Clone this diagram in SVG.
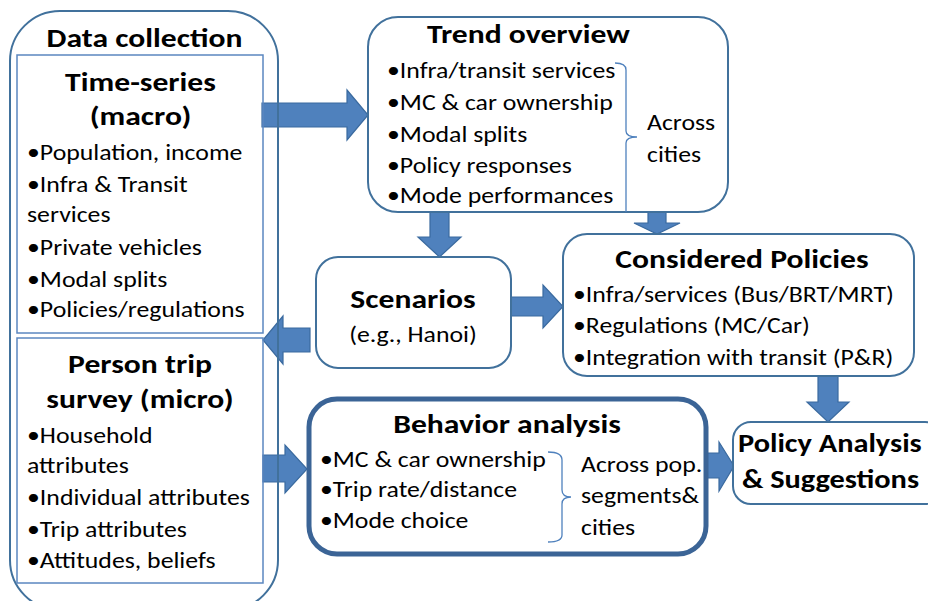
<svg xmlns="http://www.w3.org/2000/svg" width="928" height="601" viewBox="0 0 928 601">
  <style>
    .box { fill: #ffffff; stroke: #41719c; stroke-width: 2; }
    .inner { fill: none; stroke: #5b87c0; stroke-width: 1.5; }
    .thick { fill: #ffffff; stroke: #3b6496; stroke-width: 5; }
    .arrow { fill: #4f81bd; stroke: #3a6a9f; stroke-width: 1.2; stroke-linejoin: miter; }
    .brace { fill: none; stroke: #4f81bd; stroke-width: 1.3; }
    text { fill: #000; font-family: Carlito, Lato, "Open Sans", sans-serif;
           transform-box: fill-box; transform-origin: 0 50%; }
    .h { font-weight: bold; font-size: 25.5px; transform: scaleX(1.24); }
    .t { font-size: 21.5px; transform: scaleX(1.2); }
    .c { text-anchor: middle; transform-origin: 50% 50%; }
    .edge { transform: scaleX(1.19); }
  </style>
  <rect width="928" height="601" fill="#ffffff"/>

  <!-- connectors: block arrows between stages -->
  <g id="connectors">
    <polygon class="arrow" points="262,103 347,103 347,90 368,115 347,140 347,127 262,127"/>
    <polygon class="arrow" points="430,212 449,212 449,237 461,237 439.5,257 418,237 430,237"/>
    <polygon class="arrow" points="648,212 666,212 666,223 680,223 657,234 634,223 648,223"/>
    <polygon class="arrow" points="511,297 543,297 543,285 563,306.5 543,328 543,316 511,316"/>
    <polygon class="arrow" points="310,328 283,328 283,316 263,340 283,364 283,352 310,352"/>
    <polygon class="arrow" points="818,376 838,376 838,402 849,402 828,422 807,402 818,402"/>
    <polygon class="arrow" points="263,455 285,455 285,445 307,469 285,493 285,482 263,482"/>
    <polygon class="arrow" points="706,453 719,453 719,442 734,466 719,491 719,478 706,478"/>
  </g>

  <!-- data collection: outer frame with two source panels -->
  <g id="data-collection">
    <rect x="10" y="11" width="268" height="599" rx="50" fill="none" stroke="#41719c" stroke-width="2"/>
    <text class="h c" x="144.5" y="47">Data collection</text>
  </g>

  <g id="time-series">
    <rect class="inner" x="17" y="55" width="246" height="278"/>
    <text class="h c" x="140.5" y="91">Time-series</text>
    <text class="h c" x="140.5" y="125">(macro)</text>
    <text class="t" x="27" y="160">•Population, income</text>
    <text class="t" x="27" y="192">•Infra &amp; Transit</text>
    <text class="t" x="27" y="222">services</text>
    <text class="t" x="27" y="255">•Private vehicles</text>
    <text class="t" x="27" y="287">•Modal splits</text>
    <text class="t" x="27" y="317">•Policies/regulations</text>
  </g>

  <g id="person-trip">
    <rect class="inner" x="17" y="338" width="246" height="245"/>
    <text class="h c" x="140" y="373">Person trip</text>
    <text class="h c" x="140" y="408">survey (micro)</text>
    <text class="t" x="27" y="443">•Household</text>
    <text class="t" x="27" y="473">attributes</text>
    <text class="t" x="27" y="505">•Individual attributes</text>
    <text class="t" x="27" y="537">•Trip attributes</text>
    <text class="t" x="27" y="568">•Attitudes, beliefs</text>
  </g>

  <g id="trend-overview">
    <rect class="box" x="368" y="17" width="360" height="195" rx="30"/>
    <text class="h c" x="528.5" y="43">Trend overview</text>
    <text class="t" x="387" y="78">•Infra/transit services</text>
    <text class="t" x="387" y="110">•MC &amp; car ownership</text>
    <text class="t" x="387" y="142">•Modal splits</text>
    <text class="t" x="387" y="173">•Policy responses</text>
    <text class="t" x="387" y="203">•Mode performances</text>
    <path class="brace" d="M615,63 Q626,63 626,70 L626,131 Q626,137 637,137 Q626,137 626,143 L626,212"/>
    <text class="t" x="647" y="130">Across</text>
    <text class="t" x="647" y="162">cities</text>
  </g>

  <g id="scenarios">
    <rect class="box" x="316" y="257" width="195" height="111" rx="22"/>
    <text class="h c" x="413" y="308">Scenarios</text>
    <text class="t c" x="413" y="342">(e.g., Hanoi)</text>
  </g>

  <g id="considered-policies">
    <rect class="box" x="563" y="234" width="351" height="142" rx="24"/>
    <text class="h c" x="742" y="268">Considered Policies</text>
    <text class="t" x="573" y="302">•Infra/services (Bus/BRT/MRT)</text>
    <text class="t" x="573" y="333">•Regulations (MC/Car)</text>
    <text class="t" x="573" y="365">•Integration with transit (P&amp;R)</text>
  </g>

  <g id="behavior-analysis">
    <rect class="thick" x="309" y="399" width="397" height="155" rx="28"/>
    <text class="h c" x="507" y="433">Behavior analysis</text>
    <text class="t" x="320" y="467">•MC &amp; car ownership</text>
    <text class="t" x="320" y="497">•Trip rate/distance</text>
    <text class="t" x="320" y="528">•Mode choice</text>
    <path class="brace" d="M548,452 Q562,452 562,460 L562,490 Q562,497 571,497 Q562,497 562,504 L562,535 Q562,542 548,542"/>
    <text class="t" x="581" y="472">Across pop.</text>
    <text class="t" x="581" y="503">segments&amp;</text>
    <text class="t" x="581" y="535">cities</text>
  </g>

  <g id="policy-analysis">
    <rect class="box" x="733" y="422" width="210" height="82" rx="18"/>
    <text class="h edge" x="738" y="452">Policy Analysis</text>
    <text class="h edge" x="742" y="488">&amp; Suggestions</text>
  </g>
</svg>
